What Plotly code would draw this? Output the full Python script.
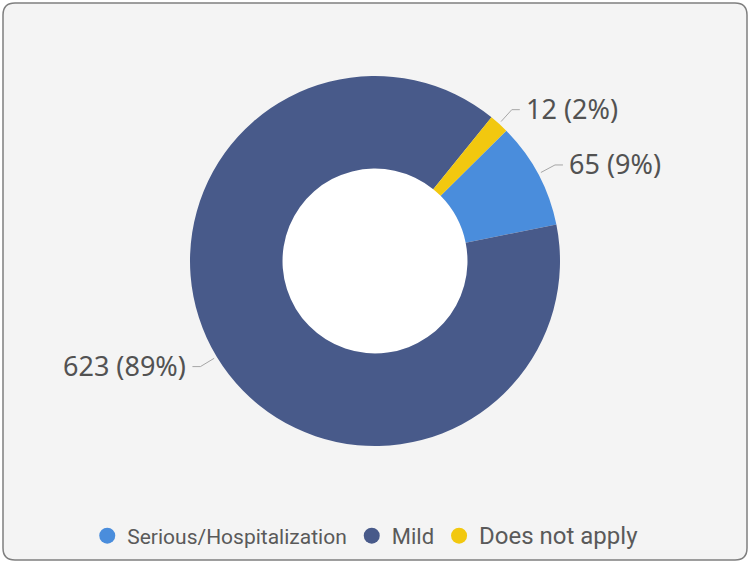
import math
import plotly.graph_objects as go

# Données
categories = ["Serious/Hospitalization", "Mild", "Does not apply"]
values = [65, 623, 12]
colors = ["#4a8ddc", "#485a8a", "#f2c80f"]
legend_sizes = [21, 22, 24]

W, H = 750, 563
CX, CY, R = 375, 261, 185       # centre et rayon du donut (px)
HOLE = 0.5
ROTATION = 45.2

def px_x(px):
    return px / W

def px_y(py):
    return 1 - py / H

fig = go.Figure()

fig.add_trace(go.Pie(
    labels=categories,
    values=values,
    marker=dict(colors=colors, line=dict(width=0)),
    hole=HOLE,
    sort=False,
    direction="clockwise",
    rotation=ROTATION,
    textinfo="none",
    showlegend=False,
    domain=dict(x=[px_x(CX - R), px_x(CX + R)], y=[px_y(CY + R), px_y(CY - R)]),
))

# Légende avec des pastilles rondes
for name, col, fs in zip(categories, colors, legend_sizes):
    fig.add_trace(go.Scatter(
        x=[None], y=[None], mode="markers",
        marker=dict(symbol="circle", size=16, color=col),
        name=f'<span style="font-size:{fs}px">{name}</span>',
        showlegend=True,
    ))

# Fond arrondi
x0, x1, y0, y1 = px_x(3), px_x(747), px_y(560), px_y(3)
rx, ry = 12 / W, 12 / H
path = (f"M {x0+rx},{y1} L {x1-rx},{y1} Q {x1},{y1} {x1},{y1-ry} "
        f"L {x1},{y0+ry} Q {x1},{y0} {x1-rx},{y0} L {x0+rx},{y0} "
        f"Q {x0},{y0} {x0},{y0+ry} L {x0},{y1-ry} Q {x0},{y1} {x0+rx},{y1} Z")
shapes = [dict(type="path", path=path, xref="paper", yref="paper",
               fillcolor="#f4f4f4", line=dict(color="#7f7f7f", width=1.5), layer="below")]

# Trou blanc du donut
rh = R * HOLE
shapes.append(dict(type="circle", xref="paper", yref="paper",
                   x0=px_x(CX - rh), x1=px_x(CX + rh), y0=px_y(CY + rh), y1=px_y(CY - rh),
                   fillcolor="white", line=dict(width=0), layer="below"))

# Étiquettes avec lignes de rappel
total = sum(values)
annotations = []
start = ROTATION
for v in values:
    span = 360 * v / total
    mid = math.radians(start + span / 2)
    start += span
    p1 = (CX + (R + 3) * math.sin(mid), CY - (R + 3) * math.cos(mid))
    p2 = (CX + (R + 19) * math.sin(mid), CY - (R + 19) * math.cos(mid))
    side = 1 if math.sin(mid) >= 0 else -1
    p3 = (p2[0] + side * 8, p2[1])
    shapes.append(dict(type="path", xref="paper", yref="paper",
                       path=f"M {px_x(p1[0])},{px_y(p1[1])} L {px_x(p2[0])},{px_y(p2[1])} L {px_x(p3[0])},{px_y(p3[1])}",
                       line=dict(color="#a6a6a6", width=1)))
    annotations.append(dict(
        x=px_x(p3[0] + side * 4), y=px_y(p3[1] - 1), xref="paper", yref="paper",
        text=f"{v} ({round(100 * v / total)}%)", showarrow=False,
        xanchor="left" if side > 0 else "right", yanchor="middle",
        font=dict(family="Noto Sans", size=27, color="#525252"),
    ))

fig.update_layout(
    width=W, height=H,
    margin=dict(l=0, r=0, t=0, b=0),
    paper_bgcolor="white",
    plot_bgcolor="rgba(0,0,0,0)",
    xaxis=dict(visible=False),
    yaxis=dict(visible=False),
    shapes=shapes,
    annotations=annotations,
    legend=dict(
        orientation="h", x=0.487, xanchor="center", y=px_y(536), yanchor="middle",
        font=dict(family="Roboto", size=21, color="#5a5a5a"),
        bgcolor="rgba(0,0,0,0)", itemclick=False,
    ),
)

# la page a une marge de 8px par défaut : on la retire
fig.write_html("out.html", config={"displayModeBar": False},
               post_script="document.body.style.margin='0';")
